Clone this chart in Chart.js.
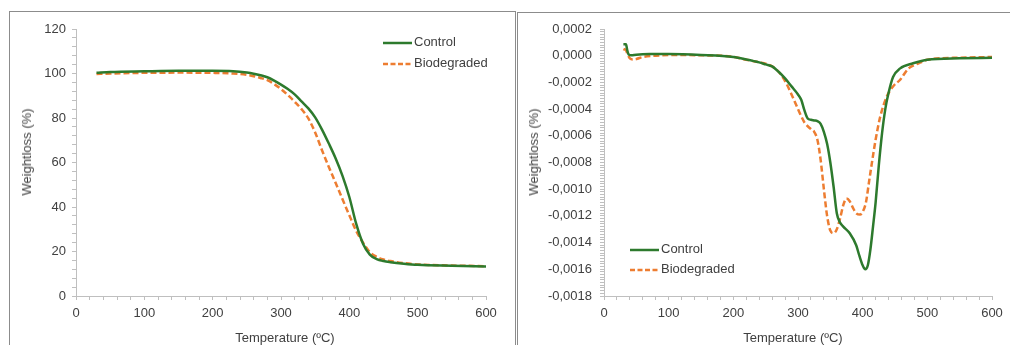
<!DOCTYPE html>
<html>
<head>
<meta charset="utf-8">
<script src="https://cdn.jsdelivr.net/npm/chart.js@4.4.1/dist/chart.umd.min.js"></script>
<style>
  body { margin: 0; background: #fff; width: 1010px; height: 345px; overflow: hidden; position: relative;
         font-family: "Liberation Sans", Arial, sans-serif; color: #404040; }
  .panel { position: absolute; border: 1px solid #8c8c8c; box-sizing: border-box; }
  #p1 { left: 9px; top: 11px; width: 507px; height: 400px; }
  #p2 { left: 517px; top: 12px; width: 520px; height: 400px; }
  .wrap { position: absolute; top: 0; height: 345px; }
  #w1 { left: 0; width: 515px; }
  #w2 { left: 515px; width: 495px; }
  .t { position: absolute; font-size: 13px; line-height: 16px; white-space: nowrap; }
  .yt { transform: translate(-50%, -50%) rotate(-90deg); }
  .xt { transform: translate(-50%, -50%); }
  .lg { position: absolute; font-size: 13px; line-height: 16px; white-space: nowrap; padding-left: 31px; }
  .lg svg { position: absolute; left: 0; top: 0; }
</style>
</head>
<body>
<div class="panel" id="p1"></div>
<div class="panel" id="p2"></div>
<div class="wrap" id="w1"><canvas id="tga" width="515" height="345"></canvas></div>
<div class="wrap" id="w2"><canvas id="dtg" width="495" height="345"></canvas></div>

<div class="t yt" style="left:27px;top:152px">Weightloss (%)</div>
<div class="t xt" style="left:285px;top:338px">Temperature (ºC)</div>
<div class="t yt" style="left:534px;top:152px">Weightloss (%)</div>
<div class="t xt" style="left:793px;top:338px">Temperature (ºC)</div>

<div class="lg" style="left:383px;top:34px"><svg width="30" height="16"><line x1="0" y1="9" x2="29" y2="9" stroke="#2d7a2d" stroke-width="2.5"/></svg>Control</div>
<div class="lg" style="left:383px;top:55px"><svg width="30" height="16"><line x1="0" y1="9" x2="29" y2="9" stroke="#ed7d31" stroke-width="2.5" stroke-dasharray="5 2.5"/></svg>Biodegraded</div>
<div class="lg" style="left:630px;top:241px"><svg width="30" height="16"><line x1="0" y1="9" x2="29" y2="9" stroke="#2d7a2d" stroke-width="2.5"/></svg>Control</div>
<div class="lg" style="left:630px;top:261px"><svg width="30" height="16"><line x1="0" y1="9" x2="29" y2="9" stroke="#ed7d31" stroke-width="2.5" stroke-dasharray="5 2.5"/></svg>Biodegraded</div>

<script>
// TGA (left panel)
const tgaTemp = [30, 50, 100, 150, 200, 230, 250, 260, 270, 280, 290, 300, 310, 320, 330, 340, 350, 360, 370,
  380, 390, 400, 410, 420, 430, 440, 450, 460, 480, 500, 550, 600];
const tgaControl = [100.3, 100.7, 101.0, 101.2, 101.2, 101.0, 100.4, 99.9, 99.2, 98.3, 96.8, 95.0, 93.0, 90.6,
  87.5, 84.3, 80.3, 74.8, 68.5, 61.8, 54.0, 44.5, 32.5, 23.5, 18.6, 16.6, 15.7, 15.2, 14.5, 14.0, 13.6, 13.3];
const tgaBiodegraded = [99.8, 100.0, 100.3, 100.4, 100.3, 100.0, 99.4, 98.8, 98.0, 97.0, 95.2, 93.0, 90.3, 87.3,
  84.0, 79.8, 73.5, 65.5, 58.0, 50.8, 43.5, 36.3, 29.3, 24.0, 19.7, 17.6, 16.4, 15.7, 14.8, 14.2, 13.7, 13.4];

// DTG (right panel)
const dtgTempControl = [30, 34, 36, 38, 42, 50, 70, 100, 150, 200, 220, 240, 250, 260, 270, 280, 290, 300, 305,
  310, 315, 320, 325, 330, 335, 340, 345, 350, 355, 360, 365, 370, 380, 390, 395, 400, 404, 408, 412, 416, 420,
  425, 430, 435, 440, 447, 458, 478, 500, 550, 600];
const dtgControl = [0.000085, 0.000085, 0.00004, 0.00001, 0.000003, 0.000008, 0.000012, 0.000012, 0.000005,
  -0.00001, -0.000028, -0.00005, -0.000065, -0.00008, -0.00012, -0.00017, -0.00023, -0.00029, -0.00033,
  -0.00041, -0.00047, -0.00048, -0.000485, -0.00049, -0.00051, -0.00057, -0.00066, -0.0008, -0.00098, -0.00118,
  -0.00125, -0.00128, -0.00133, -0.00142, -0.0015, -0.00157, -0.0016, -0.00157, -0.00145, -0.00128, -0.0011,
  -0.00082, -0.00058, -0.0004, -0.00028, -0.00016, -0.000095, -0.000057, -0.00003, -0.00002, -0.000015];
const dtgTempBiodegraded = [30, 34, 37, 40, 45, 50, 60, 80, 100, 150, 200, 220, 240, 250, 260, 270, 280, 290,
  300, 310, 320, 325, 330, 335, 340, 345, 350, 355, 360, 365, 370, 375, 380, 385, 390, 396, 400, 405, 410, 415,
  420, 427, 437, 447, 458, 470, 480, 490, 500, 550, 600];
const dtgBiodegraded = [0.00005, 0.00004, 0.000005, -0.00002, -0.000028, -0.000025, -0.00001, 0, 0.000005,
  0.000003, -0.000008, -0.00003, -0.00005, -0.00006, -0.00008, -0.00012, -0.00019, -0.00029, -0.0004, -0.0005,
  -0.00055, -0.00057, -0.00063, -0.00078, -0.001, -0.0012, -0.00131, -0.00133, -0.0013, -0.00122, -0.00112,
  -0.00107, -0.00109, -0.00114, -0.00118, -0.00119, -0.00117, -0.0011, -0.00094, -0.00078, -0.00063, -0.00046,
  -0.00031, -0.00023, -0.00018, -0.0001, -0.00007, -0.00005, -0.00003, -0.000015, -0.00001];

const tempTicks = [0, 100, 200, 300, 400, 500, 600];
const tgaTicks = [0, 20, 40, 60, 80, 100, 120];
const dtgTicks = [0.0002, 0, -0.0002, -0.0004, -0.0006, -0.0008, -0.001, -0.0012, -0.0014, -0.0016, -0.0018];
const seriesNames = ["Control", "Biodegraded"];

const GREEN = "#2d7a2d";
const ORANGE = "#ed7d31";
const TEXT = "#404040";
const AXIS = "#bfbfbf";

function pts(xs, ys) {
  return xs.map((x, i) => ({ x: x, y: ys[i] }));
}

function labelFrom(list, fmt) {
  return (v) => {
    const hit = list.find((t) => Math.abs(t - v) < 1e-9);
    return hit === undefined ? "" : fmt(hit);
  };
}

function fmtComma(v) {
  if (Math.abs(v) < 1e-12) return "0,0000";
  return v.toFixed(4).replace(".", ",");
}

function line(label, data, color, dashed) {
  return {
    label: label,
    data: data,
    borderColor: color,
    backgroundColor: color,
    borderWidth: 2.5,
    borderDash: dashed ? [6, 3] : [],
    pointRadius: 0,
    cubicInterpolationMode: "monotone",
    fill: false,
  };
}

function axisBase() {
  return {
    grid: { display: true, drawOnChartArea: false, drawTicks: true, tickLength: 4, color: AXIS, lineWidth: 1 },
    border: { display: true, color: AXIS, width: 1 },
  };
}

function makeChart(id, datasets, yOpts, yWidth, pad) {
  const font = { family: "'Liberation Sans', Arial, sans-serif", size: 13 };
  return new Chart(document.getElementById(id), {
    type: "line",
    data: { datasets: datasets },
    options: {
      responsive: false,
      animation: false,
      devicePixelRatio: 1,
      layout: { padding: pad },
      plugins: { legend: { display: false }, tooltip: { enabled: false } },
      scales: {
        x: Object.assign(axisBase(), {
          type: "linear",
          min: 0,
          max: 600,
          ticks: {
            stepSize: 20,
            autoSkip: false,
            maxRotation: 0,
            color: TEXT,
            font: font,
            padding: 6,
            callback: labelFrom(tempTicks, (v) => String(v)),
          },
          afterFit: (s) => { s.height = 49; },
        }),
        y: Object.assign(axisBase(), {
          type: "linear",
          min: yOpts.min,
          max: yOpts.max,
          ticks: {
            stepSize: yOpts.step,
            maxTicksLimit: 1000,
            autoSkip: false,
            color: TEXT,
            font: font,
            padding: yOpts.pad,
            callback: labelFrom(yOpts.labels, yOpts.fmt),
          },
          afterFit: (s) => { s.width = yWidth; },
        }),
      },
    },
  });
}

makeChart("tga", [
  line(seriesNames[0], pts(tgaTemp, tgaControl), GREEN, false),
  line(seriesNames[1], pts(tgaTemp, tgaBiodegraded), ORANGE, true),
], { min: 0, max: 120, step: 4, labels: tgaTicks, fmt: (v) => String(v), pad: 6 }, 76,
  { left: 0, top: 29, right: 29, bottom: 0 });

makeChart("dtg", [
  line(seriesNames[0], pts(dtgTempControl, dtgControl), GREEN, false),
  line(seriesNames[1], pts(dtgTempBiodegraded, dtgBiodegraded), ORANGE, true),
], { min: -0.0018, max: 0.0002, step: 0.00002, labels: dtgTicks, fmt: fmtComma, pad: 8 }, 89,
  { left: 0, top: 29, right: 18, bottom: 0 });
</script>
</body>
</html>
